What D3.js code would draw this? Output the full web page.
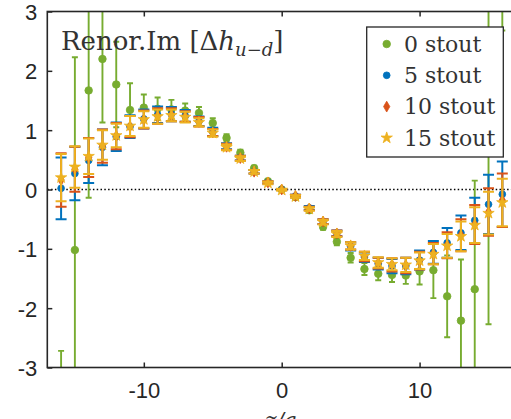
<!DOCTYPE html>
<html>
<head>
<meta charset="utf-8">
<script src="https://cdn.jsdelivr.net/npm/d3@7/dist/d3.min.js"></script>
<style>
html,body{margin:0;padding:0;background:#fff;}
svg{display:block;}
</style>
</head>
<body>
<svg id="chart" width="511" height="419"></svg>
<script>
// ---- data ----
const zValues = [-16,-15,-14,-13,-12,-11,-10,-9,-8,-7,-6,-5,-4,-3,-2,-1,0,1,2,3,4,5,6,7,8,9,10,11,12,13,14,15,16];
const seriesNames = ["0 stout","5 stout","10 stout","15 stout"];
const stout0 = [-4.5,-1.02,1.67,2.2,1.77,1.34,1.38,1.36,1.35,1.33,1.29,1.12,0.87,0.62,0.36,0.14,0.0,-0.13,-0.35,-0.63,-0.88,-1.15,-1.34,-1.42,-1.44,-1.45,-1.38,-1.36,-1.8,-2.21,-1.68,1.0,4.5];
const stout0Err = [1.78,3.25,1.81,1.07,0.72,0.45,0.22,0.19,0.16,0.12,0.1,0.08,0.06,0.05,0.04,0.03,0.02,0.03,0.04,0.05,0.06,0.08,0.1,0.11,0.12,0.14,0.22,0.47,0.69,1.03,1.83,3.27,1.82];
const stout5 = [0.02,0.27,0.49,0.71,0.89,1.06,1.19,1.26,1.27,1.24,1.15,0.97,0.73,0.53,0.30,0.12,0.0,-0.11,-0.31,-0.54,-0.74,-0.96,-1.14,-1.25,-1.29,-1.29,-1.19,-1.06,-0.9,-0.73,-0.52,-0.25,-0.08];
const stout5Err = [0.52,0.45,0.38,0.30,0.24,0.19,0.16,0.14,0.12,0.10,0.08,0.07,0.05,0.04,0.03,0.02,0.01,0.02,0.03,0.04,0.05,0.07,0.08,0.10,0.12,0.14,0.16,0.19,0.25,0.29,0.38,0.5,0.55];
const stout10 = [0.16,0.34,0.54,0.73,0.9,1.06,1.18,1.24,1.26,1.23,1.14,0.96,0.72,0.53,0.30,0.12,0.0,-0.11,-0.32,-0.54,-0.74,-0.95,-1.13,-1.24,-1.27,-1.28,-1.2,-1.08,-0.94,-0.77,-0.59,-0.38,-0.18];
const stout10Err = [0.45,0.38,0.33,0.28,0.22,0.18,0.15,0.13,0.11,0.09,0.08,0.06,0.05,0.04,0.03,0.02,0.01,0.02,0.03,0.04,0.05,0.06,0.08,0.09,0.11,0.13,0.15,0.18,0.22,0.27,0.33,0.4,0.45];
const stout15 = [0.2,0.38,0.56,0.75,0.91,1.07,1.18,1.23,1.25,1.22,1.13,0.95,0.71,0.52,0.30,0.11,-0.01,-0.12,-0.33,-0.55,-0.75,-0.95,-1.12,-1.23,-1.26,-1.27,-1.2,-1.09,-0.95,-0.79,-0.6,-0.4,-0.22];
const stout15Err = [0.4,0.35,0.3,0.25,0.2,0.17,0.14,0.12,0.1,0.09,0.07,0.06,0.05,0.04,0.03,0.02,0.01,0.02,0.03,0.04,0.05,0.06,0.07,0.09,0.1,0.12,0.14,0.17,0.2,0.25,0.3,0.36,0.4];
const xTicks = [-10,0,10];
const yTicks = [-3,-2,-1,0,1,2,3];

// ---- styles ----
const colors = ["#77AC30","#0072BD","#D95319","#EDB120"];
const symbols = [d3.symbolCircle, d3.symbolCircle, d3.symbolDiamond, d3.symbolStar];
const symSizes = [45, 36, 34, 40];
const capW = [6, 11, 11, 11];
const lineW = [1.9, 2, 2, 2];

const series = [
  {vals: stout0, errs: stout0Err},
  {vals: stout5, errs: stout5Err},
  {vals: stout10, errs: stout10Err},
  {vals: stout15, errs: stout15Err}
];

const svg = d3.select("#chart");
const L = 47.3, R = 516.1, T = 11.5, B = 367.5;
const x = d3.scaleLinear().domain([-17,17]).range([L,R]);
const y = d3.scaleLinear().domain([-3,3]).range([B,T]);
const axisColor = "#262626";

svg.append("defs").append("clipPath").attr("id","clip")
  .append("rect").attr("x",L).attr("y",T).attr("width",R-L).attr("height",B-T);

// zero line
svg.append("line")
  .attr("x1",L).attr("x2",R).attr("y1",y(0)).attr("y2",y(0))
  .attr("stroke","#000").attr("stroke-width",1.6).attr("stroke-dasharray","1.5,2.3");

// data
const plot = svg.append("g").attr("clip-path","url(#clip)");
series.forEach((s,si) => {
  const g = plot.append("g");
  const data = zValues.map((z,i) => ({z, v: s.vals[i], e: s.errs[i]}));
  const c = colors[si];
  g.selectAll("line.v").data(data).join("line")
    .attr("x1",d=>x(d.z)).attr("x2",d=>x(d.z))
    .attr("y1",d=>y(d.v-d.e)).attr("y2",d=>y(d.v+d.e))
    .attr("stroke",c).attr("stroke-width",lineW[si]);
  ["lo","hi"].forEach(k => {
    g.selectAll("line."+k).data(data).join("line")
      .attr("x1",d=>x(d.z)-capW[si]/2).attr("x2",d=>x(d.z)+capW[si]/2)
      .attr("y1",d=>y(k==="lo"?d.v-d.e:d.v+d.e)).attr("y2",d=>y(k==="lo"?d.v-d.e:d.v+d.e))
      .attr("stroke",c).attr("stroke-width",lineW[si]);
  });
  g.selectAll("path").data(data).join("path")
    .attr("transform",d=>`translate(${x(d.z)},${y(d.v)})`)
    .attr("d",d3.symbol().type(symbols[si]).size(symSizes[si]))
    .attr("fill",c).attr("stroke",c).attr("stroke-width",0.8);
});

// axes
const fontSans = "'Liberation Sans', Arial, Helvetica, sans-serif";
const fmt = d => String(d);
const yAxis = svg.append("g").attr("transform",`translate(${L},0)`)
  .call(d3.axisLeft(y).tickValues(yTicks).tickSizeInner(-5).tickSizeOuter(0).tickPadding(10).tickFormat(fmt));
const xAxis = svg.append("g").attr("transform",`translate(0,${B})`)
  .call(d3.axisBottom(x).tickValues(xTicks).tickSizeInner(-5).tickSizeOuter(0).tickPadding(15).tickFormat(fmt));
const xTop = svg.append("g").attr("transform",`translate(0,${T})`)
  .call(d3.axisTop(x).tickValues(xTicks).tickSizeInner(-5).tickSizeOuter(0).tickFormat(""));
[yAxis,xAxis,xTop].forEach(a => {
  a.select(".domain").remove();
  a.selectAll(".tick line").attr("stroke",axisColor).attr("stroke-width",1.5);
  a.selectAll(".tick text").attr("fill","#262626").style("font-family",fontSans).style("font-size","22px");
});
yAxis.selectAll(".tick text").attr("dy","0.36em");

// box
svg.append("rect").attr("x",L).attr("y",T).attr("width",R-L).attr("height",B-T)
  .attr("fill","none").attr("stroke",axisColor).attr("stroke-width",1.6);

// title
const fontSerif = "'DejaVu Serif', serif";
const title = svg.append("text").attr("x",61).attr("y",50)
  .style("font-family",fontSerif).style("font-size","26px").attr("fill","#333");
title.append("tspan").text("Renor.Im [Δ");
title.append("tspan").style("font-style","italic").text("h");
title.append("tspan").style("font-style","italic").style("font-size","18px").attr("dy",6).text("u−d");
title.append("tspan").attr("dy",-6).text("]");

// legend
const lg = svg.append("g");
lg.append("rect").attr("x",366.7).attr("y",27).attr("width",136.6).attr("height",130)
  .attr("fill","#fff").attr("stroke",axisColor).attr("stroke-width",1.3);
seriesNames.forEach((n,i) => {
  const cy = 44 + i*31.3;
  lg.append("path").attr("transform",`translate(386.7,${cy})`)
    .attr("d",d3.symbol().type(symbols[i]).size(symSizes[i]))
    .attr("fill",colors[i]).attr("stroke",colors[i]).attr("stroke-width",0.8);
  lg.append("text").attr("x",404).attr("y",cy).attr("dy","0.35em")
    .style("font-family",fontSerif).style("font-size","22px").attr("fill","#333").text(n);
});

// x label (cut off at bottom, as in the reference)
const xl = svg.append("text").attr("x",281).attr("y",428).attr("text-anchor","middle")
  .style("font-family",fontSerif).style("font-size","22px").style("font-style","italic").attr("fill","#333");
xl.text("z/a");
</script>
</body>
</html>
